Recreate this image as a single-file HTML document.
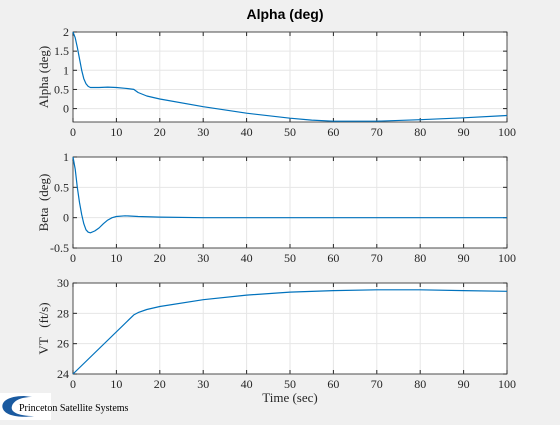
<!DOCTYPE html>
<html><head><meta charset="utf-8"><style>
body{margin:0;background:#f0f0f0;width:560px;height:420px;overflow:hidden}
svg text{font-family:"Liberation Serif",serif;white-space:pre}
</style></head><body>
<svg id="fig" width="560" height="420" xmlns="http://www.w3.org/2000/svg">
<text x="285" y="19" text-anchor="middle" style="font-family:'Liberation Sans',sans-serif;font-weight:bold;font-size:14px">Alpha (deg)</text>
<g>
<rect x="0" y="393" width="51" height="27" fill="#fff"/>
<path d="M24 396 C8 396 0 402 3 409 C6 416 20 418 34 416 C18 416 10 412 12 406 C14 400 22 397 32 397 Z" fill="#1a5aa0"/>
<text x="19" y="411" font-size="10" fill="#000">Princeton Satellite Systems</text>
</g>
</svg>
<script>
const tX=[0,0.5,1,1.5,2,2.5,3,3.5,4,6,8,10,12,14,15,17,20,30,40,50,55,60,70,80,90,100];
const alphaV=[2,1.85,1.6,1.3,1.0,0.78,0.65,0.58,0.55,0.55,0.56,0.55,0.53,0.5,0.42,0.33,0.25,0.05,-0.12,-0.25,-0.3,-0.33,-0.33,-0.29,-0.24,-0.18];
const tB=[0,0.5,1,1.5,2,2.5,3,3.5,4,5,6,7,8,9,10,12,15,20,30,50,100];
const betaV=[1,0.8,0.5,0.25,0.05,-0.1,-0.2,-0.24,-0.25,-0.22,-0.17,-0.1,-0.04,0,0.02,0.03,0.02,0.01,0,0,0];
const tV=[0,14,15,17,20,30,40,50,60,70,80,90,100];
const vtV=[24,27.9,28.05,28.25,28.45,28.9,29.2,29.4,29.5,29.55,29.55,29.5,29.45];
const xTicks=[0,10,20,30,40,50,60,70,80,90,100];
const aTicks=[0,0.5,1,1.5,2], bTicks=[-0.5,0,0.5,1], vTicks=[24,26,28,30];
const NS="http://www.w3.org/2000/svg", svg=document.getElementById('fig');
const X0=73,X1=507;
function el(t,a,p){const e=document.createElementNS(NS,t);for(const k in a)e.setAttribute(k,a[k]);(p||svg).appendChild(e);return e;}
function panel(name,top,bot,ymin,ymax,yt,label,xs,ys){
 const g=el('g',{});
 
 
 const sx=v=>X0+(v-0)/100*(X1-X0), sy=v=>bot-(v-ymin)/(ymax-ymin)*(bot-top);
 el('rect',{x:X0,y:top,width:X1-X0,height:bot-top,fill:'#fff'},g);
 xTicks.forEach(v=>{el('line',{x1:sx(v),x2:sx(v),y1:top,y2:bot,stroke:'#e6e6e6','stroke-width':1},g);
  const t=el('text',{x:sx(v),y:bot+14,'text-anchor':'middle','font-size':12,fill:'#262626'},g);t.textContent=v;
  
  
  el('line',{x1:sx(v),x2:sx(v),y1:bot,y2:bot-4,stroke:'#262626'},g);el('line',{x1:sx(v),x2:sx(v),y1:top,y2:top+4,stroke:'#262626'},g);});
 yt.forEach(v=>{el('line',{x1:X0,x2:X1,y1:sy(v),y2:sy(v),stroke:'#e6e6e6'},g);
  const t=el('text',{x:X0-4,y:sy(v)+4,'text-anchor':'end','font-size':12,fill:'#262626'},g);t.textContent=v;
  
  
  el('line',{x1:X0,x2:X0+4,y1:sy(v),y2:sy(v),stroke:'#262626'},g);el('line',{x1:X1,x2:X1-4,y1:sy(v),y2:sy(v),stroke:'#262626'},g);});
 el('rect',{x:X0,y:top,width:X1-X0,height:bot-top,fill:'none',stroke:'#262626','stroke-width':0.8},g);
 const l=el('text',{x:0,y:0,'text-anchor':'middle','font-size':13,fill:'#262626',transform:`translate(48,${(top+bot)/2}) rotate(-90)`},g);l.textContent=label;
 
 
 let d='';xs.forEach((v,i)=>{d+=(i?'L':'M')+sx(v).toFixed(1)+' '+sy(ys[i]).toFixed(1);});
 const p=el('path',{d:d,fill:'none',stroke:'#0072bd','stroke-width':1.2,'stroke-linejoin':'round'},g);
 
 
}
panel('alpha',32,122,-0.35,2,aTicks,'Alpha (deg)',tX,alphaV);
panel('beta',157,248,-0.5,1,bTicks,'Beta  (deg)',tB,betaV);
panel('vt',283,374,24,30,vTicks,'VT   (ft/s)',tV,vtV);
const xl=el('text',{x:290,y:402,'text-anchor':'middle','font-size':13,fill:'#262626'});xl.textContent='Time (sec)';


</script>
</body></html>
